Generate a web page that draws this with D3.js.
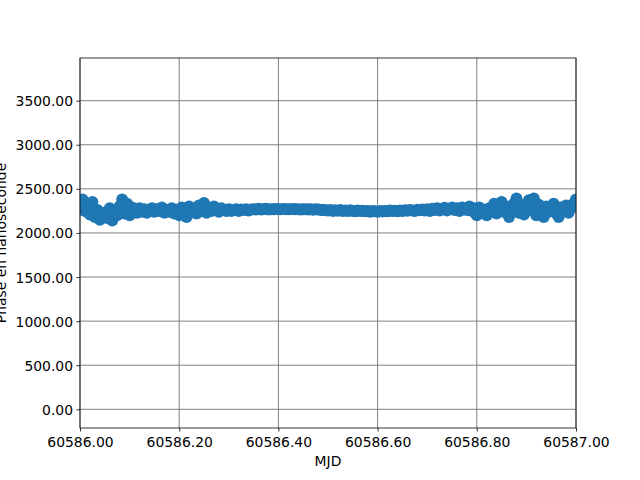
<!DOCTYPE html>
<html>
<head>
<meta charset="utf-8">
<script src="https://cdn.jsdelivr.net/npm/d3@7/dist/d3.min.js"></script>
<style>
body { margin: 0; background: #fff; }
svg { display: block; font-family: "DejaVu Sans", sans-serif; }
</style>
</head>
<body>
<svg id="chart" width="640" height="480"></svg>
<script>
// ---- data ----
const mjdStart = 60586.0;
const mjdStep = 0.005;
const phase = [
  2330, 2380, 2250, 2300, 2210, 2350, 2180, 2260, 2150, 2230,
  2200, 2170, 2280, 2140, 2250, 2200, 2300, 2380, 2220, 2330,
  2200, 2290, 2250, 2230, 2280, 2240, 2270, 2230, 2260, 2280,
  2240, 2270, 2250, 2290, 2230, 2260, 2240, 2280, 2220, 2260,
  2200, 2290, 2250, 2180, 2300, 2240, 2260, 2220, 2310, 2250,
  2340, 2230, 2280, 2250, 2300, 2260, 2240, 2280, 2260, 2250,
  2270, 2250, 2260, 2270, 2250, 2265, 2260, 2270, 2255, 2265,
  2270, 2265, 2275, 2265, 2270, 2275, 2265, 2270, 2268, 2272,
  2270, 2268, 2272, 2270, 2268, 2270, 2272, 2268, 2270, 2266,
  2268, 2270, 2265, 2270, 2262, 2268, 2265, 2260, 2262, 2258,
  2255, 2260, 2250, 2258, 2252, 2260, 2250, 2255, 2248, 2256,
  2250, 2245, 2255, 2248, 2252, 2245, 2250, 2240, 2248, 2245,
  2240, 2248, 2242, 2250, 2245, 2255, 2248, 2252, 2245, 2255,
  2250, 2258, 2252, 2260, 2255, 2250, 2262, 2258, 2265, 2255,
  2270, 2250, 2275, 2260, 2280, 2255, 2265, 2285, 2255, 2270,
  2290, 2260, 2280, 2250, 2290, 2270, 2260, 2300, 2250, 2280,
  2200, 2290, 2230, 2260, 2200, 2280, 2250, 2330, 2220, 2300,
  2350, 2240, 2300, 2180, 2260, 2330, 2390, 2230, 2280, 2210,
  2330, 2370, 2260, 2390, 2200, 2320, 2250, 2180, 2300, 2240,
  2270, 2330, 2220, 2180, 2290, 2250, 2310, 2230, 2280, 2330,
  2380
];
const mjd = phase.map((_, i) => mjdStart + i * mjdStep);
const xTicks = [60586.0, 60586.2, 60586.4, 60586.6, 60586.8, 60587.0];
const yTicks = [0, 500, 1000, 1500, 2000, 2500, 3000, 3500];
const xDomain = [60586.0, 60587.0];
const yDomain = [-212, 3984];
const xLabel = "MJD";
const yLabel = "Phase en nanoseconde";

// ---- layout ----
const svg = d3.select("#chart");
const L = 80, R = 576, T = 58, B = 428;
const x = d3.scaleLinear().domain(xDomain).range([L, R]);
const y = d3.scaleLinear().domain(yDomain).range([B, T]);
const fs = 13.9;

// grid
const grid = svg.append("g");
grid.selectAll(".gx").data(xTicks).enter().append("line")
  .attr("x1", d => x(d)).attr("x2", d => x(d)).attr("y1", T).attr("y2", B)
  .attr("stroke", "#808080").attr("stroke-width", 1);
grid.selectAll(".gy").data(yTicks).enter().append("line")
  .attr("y1", d => y(d)).attr("y2", d => y(d)).attr("x1", L).attr("x2", R)
  .attr("stroke", "#808080").attr("stroke-width", 1);

// clip
svg.append("defs").append("clipPath").attr("id", "clip")
  .append("rect").attr("x", L).attr("y", T).attr("width", R - L).attr("height", B - T);

// points
svg.append("g").attr("clip-path", "url(#clip)")
  .selectAll("circle").data(mjd).enter().append("circle")
  .attr("cx", d => x(d)).attr("cy", (d, i) => y(phase[i]))
  .attr("r", 6).attr("fill", "#1f77b4");

// axes
const xAxis = d3.axisBottom(x).tickValues(xTicks).tickSize(3.5).tickPadding(3.5)
  .tickFormat(d3.format(".2f"));
const yAxis = d3.axisLeft(y).tickValues(yTicks).tickSize(3.5).tickPadding(3.5)
  .tickFormat(d3.format(".2f"));
const gx = svg.append("g").attr("transform", `translate(0,${B})`).call(xAxis);
const gy = svg.append("g").attr("transform", `translate(${L},0)`).call(yAxis);
[gx, gy].forEach(g => {
  g.select(".domain").remove();
  g.selectAll("line").attr("stroke", "#000").attr("stroke-width", 0.8);
  g.selectAll("text").attr("font-size", fs).attr("fill", "#000")
    .attr("font-family", "DejaVu Sans");
});
gx.selectAll("text").attr("dy", null).attr("y", 19);
gy.selectAll("text").attr("dy", "0.36em");

// frame
svg.append("rect").attr("x", L).attr("y", T).attr("width", R - L).attr("height", B - T)
  .attr("fill", "none").attr("stroke", "#000").attr("stroke-width", 0.8);

// labels
svg.append("text").attr("x", (L + R) / 2).attr("y", 466).attr("text-anchor", "middle")
  .attr("font-size", fs).text(xLabel);
svg.append("text").attr("transform", `translate(6,${(T + B) / 2}) rotate(-90)`)
  .attr("text-anchor", "middle").attr("font-size", fs).text(yLabel);
</script>
</body>
</html>
